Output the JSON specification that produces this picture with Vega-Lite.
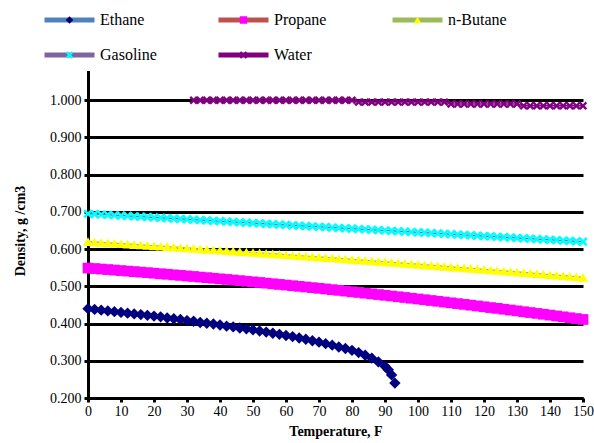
{
"$schema": "https://vega.github.io/schema/vega-lite/v6.json",
"width": 495, "height": 335,
"autosize": {"type": "none"},
"padding": {"left": 88, "top": 63, "right": 11, "bottom": 45},
"config": {"view": {"stroke": null}, "font": "Liberation Serif"},
"data": {"values": [
{"series":"Ethane","temp":0,"density":0.440},{"series":"Ethane","temp":2,"density":0.438},{"series":"Ethane","temp":4,"density":0.436},{"series":"Ethane","temp":6,"density":0.434},{"series":"Ethane","temp":8,"density":0.432},{"series":"Ethane","temp":10,"density":0.430},{"series":"Ethane","temp":12,"density":0.428},{"series":"Ethane","temp":14,"density":0.426},{"series":"Ethane","temp":16,"density":0.424},{"series":"Ethane","temp":18,"density":0.422},{"series":"Ethane","temp":20,"density":0.420},{"series":"Ethane","temp":22,"density":0.418},{"series":"Ethane","temp":24,"density":0.415},{"series":"Ethane","temp":26,"density":0.413},{"series":"Ethane","temp":28,"density":0.411},{"series":"Ethane","temp":30,"density":0.408},{"series":"Ethane","temp":32,"density":0.406},{"series":"Ethane","temp":34,"density":0.403},{"series":"Ethane","temp":36,"density":0.401},{"series":"Ethane","temp":38,"density":0.399},{"series":"Ethane","temp":40,"density":0.396},{"series":"Ethane","temp":42,"density":0.393},{"series":"Ethane","temp":44,"density":0.391},{"series":"Ethane","temp":46,"density":0.388},{"series":"Ethane","temp":48,"density":0.386},{"series":"Ethane","temp":50,"density":0.383},{"series":"Ethane","temp":52,"density":0.380},{"series":"Ethane","temp":54,"density":0.377},{"series":"Ethane","temp":56,"density":0.374},{"series":"Ethane","temp":58,"density":0.371},{"series":"Ethane","temp":60,"density":0.368},{"series":"Ethane","temp":62,"density":0.365},{"series":"Ethane","temp":64,"density":0.361},{"series":"Ethane","temp":66,"density":0.358},{"series":"Ethane","temp":68,"density":0.354},{"series":"Ethane","temp":70,"density":0.350},{"series":"Ethane","temp":72,"density":0.346},{"series":"Ethane","temp":74,"density":0.342},{"series":"Ethane","temp":76,"density":0.337},{"series":"Ethane","temp":78,"density":0.333},{"series":"Ethane","temp":80,"density":0.328},{"series":"Ethane","temp":82,"density":0.322},{"series":"Ethane","temp":84,"density":0.315},{"series":"Ethane","temp":86,"density":0.307},{"series":"Ethane","temp":88,"density":0.297},{"series":"Ethane","temp":90,"density":0.285},{"series":"Ethane","temp":91,"density":0.276},{"series":"Ethane","temp":92,"density":0.262},{"series":"Ethane","temp":93,"density":0.240},
{"series":"Propane","temp":0,"density":0.5490},{"series":"Propane","temp":2,"density":0.5477},{"series":"Propane","temp":4,"density":0.5464},{"series":"Propane","temp":6,"density":0.5450},{"series":"Propane","temp":8,"density":0.5437},{"series":"Propane","temp":10,"density":0.5423},{"series":"Propane","temp":12,"density":0.5409},{"series":"Propane","temp":14,"density":0.5395},{"series":"Propane","temp":16,"density":0.5381},{"series":"Propane","temp":18,"density":0.5367},{"series":"Propane","temp":20,"density":0.5353},{"series":"Propane","temp":22,"density":0.5338},{"series":"Propane","temp":24,"density":0.5324},{"series":"Propane","temp":26,"density":0.5309},{"series":"Propane","temp":28,"density":0.5294},{"series":"Propane","temp":30,"density":0.5279},{"series":"Propane","temp":32,"density":0.5264},{"series":"Propane","temp":34,"density":0.5248},{"series":"Propane","temp":36,"density":0.5233},{"series":"Propane","temp":38,"density":0.5217},{"series":"Propane","temp":40,"density":0.5201},{"series":"Propane","temp":42,"density":0.5185},{"series":"Propane","temp":44,"density":0.5169},{"series":"Propane","temp":46,"density":0.5153},{"series":"Propane","temp":48,"density":0.5136},{"series":"Propane","temp":50,"density":0.5120},{"series":"Propane","temp":52,"density":0.5103},{"series":"Propane","temp":54,"density":0.5086},{"series":"Propane","temp":56,"density":0.5069},{"series":"Propane","temp":58,"density":0.5051},{"series":"Propane","temp":60,"density":0.5035},{"series":"Propane","temp":62,"density":0.5017},{"series":"Propane","temp":64,"density":0.5000},{"series":"Propane","temp":66,"density":0.4983},{"series":"Propane","temp":68,"density":0.4965},{"series":"Propane","temp":70,"density":0.4947},{"series":"Propane","temp":72,"density":0.4929},{"series":"Propane","temp":74,"density":0.4911},{"series":"Propane","temp":76,"density":0.4892},{"series":"Propane","temp":78,"density":0.4873},{"series":"Propane","temp":80,"density":0.4855},{"series":"Propane","temp":82,"density":0.4836},{"series":"Propane","temp":84,"density":0.4817},{"series":"Propane","temp":86,"density":0.4798},{"series":"Propane","temp":88,"density":0.4779},{"series":"Propane","temp":90,"density":0.4759},{"series":"Propane","temp":92,"density":0.4740},{"series":"Propane","temp":94,"density":0.4720},{"series":"Propane","temp":96,"density":0.4700},{"series":"Propane","temp":98,"density":0.4680},{"series":"Propane","temp":100,"density":0.4660},{"series":"Propane","temp":102,"density":0.4640},{"series":"Propane","temp":104,"density":0.4619},{"series":"Propane","temp":106,"density":0.4599},{"series":"Propane","temp":108,"density":0.4578},{"series":"Propane","temp":110,"density":0.4557},{"series":"Propane","temp":112,"density":0.4536},{"series":"Propane","temp":114,"density":0.4515},{"series":"Propane","temp":116,"density":0.4494},{"series":"Propane","temp":118,"density":0.4473},{"series":"Propane","temp":120,"density":0.4451},{"series":"Propane","temp":122,"density":0.4429},{"series":"Propane","temp":124,"density":0.4408},{"series":"Propane","temp":126,"density":0.4385},{"series":"Propane","temp":128,"density":0.4363},{"series":"Propane","temp":130,"density":0.4341},{"series":"Propane","temp":132,"density":0.4318},{"series":"Propane","temp":134,"density":0.4296},{"series":"Propane","temp":136,"density":0.4273},{"series":"Propane","temp":138,"density":0.4250},{"series":"Propane","temp":140,"density":0.4227},{"series":"Propane","temp":142,"density":0.4204},{"series":"Propane","temp":144,"density":0.4181},{"series":"Propane","temp":146,"density":0.4157},{"series":"Propane","temp":148,"density":0.4134},{"series":"Propane","temp":150,"density":0.4110},
{"series":"n-Butane","temp":0,"density":0.6200},{"series":"n-Butane","temp":2,"density":0.6189},{"series":"n-Butane","temp":4,"density":0.6178},{"series":"n-Butane","temp":6,"density":0.6167},{"series":"n-Butane","temp":8,"density":0.6156},{"series":"n-Butane","temp":10,"density":0.6144},{"series":"n-Butane","temp":12,"density":0.6133},{"series":"n-Butane","temp":14,"density":0.6122},{"series":"n-Butane","temp":16,"density":0.6110},{"series":"n-Butane","temp":18,"density":0.6099},{"series":"n-Butane","temp":20,"density":0.6088},{"series":"n-Butane","temp":22,"density":0.6076},{"series":"n-Butane","temp":24,"density":0.6065},{"series":"n-Butane","temp":26,"density":0.6053},{"series":"n-Butane","temp":28,"density":0.6041},{"series":"n-Butane","temp":30,"density":0.6030},{"series":"n-Butane","temp":32,"density":0.6018},{"series":"n-Butane","temp":34,"density":0.6006},{"series":"n-Butane","temp":36,"density":0.5994},{"series":"n-Butane","temp":38,"density":0.5982},{"series":"n-Butane","temp":40,"density":0.5970},{"series":"n-Butane","temp":42,"density":0.5958},{"series":"n-Butane","temp":44,"density":0.5946},{"series":"n-Butane","temp":46,"density":0.5934},{"series":"n-Butane","temp":48,"density":0.5922},{"series":"n-Butane","temp":50,"density":0.5910},{"series":"n-Butane","temp":52,"density":0.5898},{"series":"n-Butane","temp":54,"density":0.5885},{"series":"n-Butane","temp":56,"density":0.5873},{"series":"n-Butane","temp":58,"density":0.5861},{"series":"n-Butane","temp":60,"density":0.5848},{"series":"n-Butane","temp":62,"density":0.5836},{"series":"n-Butane","temp":64,"density":0.5823},{"series":"n-Butane","temp":66,"density":0.5811},{"series":"n-Butane","temp":68,"density":0.5798},{"series":"n-Butane","temp":70,"density":0.5786},{"series":"n-Butane","temp":72,"density":0.5773},{"series":"n-Butane","temp":74,"density":0.5760},{"series":"n-Butane","temp":76,"density":0.5747},{"series":"n-Butane","temp":78,"density":0.5734},{"series":"n-Butane","temp":80,"density":0.5722},{"series":"n-Butane","temp":82,"density":0.5709},{"series":"n-Butane","temp":84,"density":0.5696},{"series":"n-Butane","temp":86,"density":0.5683},{"series":"n-Butane","temp":88,"density":0.5670},{"series":"n-Butane","temp":90,"density":0.5656},{"series":"n-Butane","temp":92,"density":0.5643},{"series":"n-Butane","temp":94,"density":0.5630},{"series":"n-Butane","temp":96,"density":0.5617},{"series":"n-Butane","temp":98,"density":0.5603},{"series":"n-Butane","temp":100,"density":0.5590},{"series":"n-Butane","temp":102,"density":0.5577},{"series":"n-Butane","temp":104,"density":0.5563},{"series":"n-Butane","temp":106,"density":0.5550},{"series":"n-Butane","temp":108,"density":0.5536},{"series":"n-Butane","temp":110,"density":0.5522},{"series":"n-Butane","temp":112,"density":0.5509},{"series":"n-Butane","temp":114,"density":0.5495},{"series":"n-Butane","temp":116,"density":0.5481},{"series":"n-Butane","temp":118,"density":0.5467},{"series":"n-Butane","temp":120,"density":0.5454},{"series":"n-Butane","temp":122,"density":0.5440},{"series":"n-Butane","temp":124,"density":0.5426},{"series":"n-Butane","temp":126,"density":0.5412},{"series":"n-Butane","temp":128,"density":0.5398},{"series":"n-Butane","temp":130,"density":0.5384},{"series":"n-Butane","temp":132,"density":0.5369},{"series":"n-Butane","temp":134,"density":0.5355},{"series":"n-Butane","temp":136,"density":0.5341},{"series":"n-Butane","temp":138,"density":0.5327},{"series":"n-Butane","temp":140,"density":0.5312},{"series":"n-Butane","temp":142,"density":0.5298},{"series":"n-Butane","temp":144,"density":0.5284},{"series":"n-Butane","temp":146,"density":0.5269},{"series":"n-Butane","temp":148,"density":0.5255},{"series":"n-Butane","temp":150,"density":0.5240},
{"series":"Gasoline","temp":0,"density":0.695},{"series":"Gasoline","temp":2,"density":0.694},{"series":"Gasoline","temp":4,"density":0.693},{"series":"Gasoline","temp":6,"density":0.692},{"series":"Gasoline","temp":8,"density":0.691},{"series":"Gasoline","temp":10,"density":0.690},{"series":"Gasoline","temp":12,"density":0.689},{"series":"Gasoline","temp":14,"density":0.688},{"series":"Gasoline","temp":16,"density":0.687},{"series":"Gasoline","temp":18,"density":0.686},{"series":"Gasoline","temp":20,"density":0.685},{"series":"Gasoline","temp":22,"density":0.684},{"series":"Gasoline","temp":24,"density":0.683},{"series":"Gasoline","temp":26,"density":0.682},{"series":"Gasoline","temp":28,"density":0.681},{"series":"Gasoline","temp":30,"density":0.680},{"series":"Gasoline","temp":32,"density":0.679},{"series":"Gasoline","temp":34,"density":0.678},{"series":"Gasoline","temp":36,"density":0.677},{"series":"Gasoline","temp":38,"density":0.676},{"series":"Gasoline","temp":40,"density":0.675},{"series":"Gasoline","temp":42,"density":0.674},{"series":"Gasoline","temp":44,"density":0.673},{"series":"Gasoline","temp":46,"density":0.672},{"series":"Gasoline","temp":48,"density":0.671},{"series":"Gasoline","temp":50,"density":0.670},{"series":"Gasoline","temp":52,"density":0.669},{"series":"Gasoline","temp":54,"density":0.668},{"series":"Gasoline","temp":56,"density":0.667},{"series":"Gasoline","temp":58,"density":0.666},{"series":"Gasoline","temp":60,"density":0.665},{"series":"Gasoline","temp":62,"density":0.664},{"series":"Gasoline","temp":64,"density":0.663},{"series":"Gasoline","temp":66,"density":0.662},{"series":"Gasoline","temp":68,"density":0.661},{"series":"Gasoline","temp":70,"density":0.660},{"series":"Gasoline","temp":72,"density":0.659},{"series":"Gasoline","temp":74,"density":0.658},{"series":"Gasoline","temp":76,"density":0.657},{"series":"Gasoline","temp":78,"density":0.656},{"series":"Gasoline","temp":80,"density":0.655},{"series":"Gasoline","temp":82,"density":0.654},{"series":"Gasoline","temp":84,"density":0.653},{"series":"Gasoline","temp":86,"density":0.652},{"series":"Gasoline","temp":88,"density":0.651},{"series":"Gasoline","temp":90,"density":0.650},{"series":"Gasoline","temp":92,"density":0.649},{"series":"Gasoline","temp":94,"density":0.648},{"series":"Gasoline","temp":96,"density":0.647},{"series":"Gasoline","temp":98,"density":0.646},{"series":"Gasoline","temp":100,"density":0.645},{"series":"Gasoline","temp":102,"density":0.644},{"series":"Gasoline","temp":104,"density":0.643},{"series":"Gasoline","temp":106,"density":0.642},{"series":"Gasoline","temp":108,"density":0.641},{"series":"Gasoline","temp":110,"density":0.640},{"series":"Gasoline","temp":112,"density":0.639},{"series":"Gasoline","temp":114,"density":0.638},{"series":"Gasoline","temp":116,"density":0.637},{"series":"Gasoline","temp":118,"density":0.636},{"series":"Gasoline","temp":120,"density":0.635},{"series":"Gasoline","temp":122,"density":0.634},{"series":"Gasoline","temp":124,"density":0.633},{"series":"Gasoline","temp":126,"density":0.632},{"series":"Gasoline","temp":128,"density":0.631},{"series":"Gasoline","temp":130,"density":0.630},{"series":"Gasoline","temp":132,"density":0.629},{"series":"Gasoline","temp":134,"density":0.628},{"series":"Gasoline","temp":136,"density":0.627},{"series":"Gasoline","temp":138,"density":0.626},{"series":"Gasoline","temp":140,"density":0.625},{"series":"Gasoline","temp":142,"density":0.624},{"series":"Gasoline","temp":144,"density":0.623},{"series":"Gasoline","temp":146,"density":0.622},{"series":"Gasoline","temp":148,"density":0.621},{"series":"Gasoline","temp":150,"density":0.620},
{"series":"Water","temp":32,"density":1.000},{"series":"Water","temp":34,"density":1.000},{"series":"Water","temp":36,"density":1.000},{"series":"Water","temp":38,"density":1.000},{"series":"Water","temp":40,"density":1.000},{"series":"Water","temp":42,"density":1.000},{"series":"Water","temp":44,"density":1.000},{"series":"Water","temp":46,"density":1.000},{"series":"Water","temp":48,"density":1.000},{"series":"Water","temp":50,"density":1.000},{"series":"Water","temp":52,"density":1.000},{"series":"Water","temp":54,"density":1.000},{"series":"Water","temp":56,"density":1.000},{"series":"Water","temp":58,"density":1.000},{"series":"Water","temp":60,"density":1.000},{"series":"Water","temp":62,"density":1.000},{"series":"Water","temp":64,"density":1.000},{"series":"Water","temp":66,"density":1.000},{"series":"Water","temp":68,"density":1.000},{"series":"Water","temp":70,"density":1.000},{"series":"Water","temp":72,"density":1.000},{"series":"Water","temp":74,"density":1.000},{"series":"Water","temp":76,"density":1.000},{"series":"Water","temp":78,"density":1.000},{"series":"Water","temp":80,"density":1.000},{"series":"Water","temp":82,"density":0.995},{"series":"Water","temp":84,"density":0.995},{"series":"Water","temp":86,"density":0.995},{"series":"Water","temp":88,"density":0.995},{"series":"Water","temp":90,"density":0.995},{"series":"Water","temp":92,"density":0.995},{"series":"Water","temp":94,"density":0.995},{"series":"Water","temp":96,"density":0.995},{"series":"Water","temp":98,"density":0.995},{"series":"Water","temp":100,"density":0.995},{"series":"Water","temp":102,"density":0.995},{"series":"Water","temp":104,"density":0.995},{"series":"Water","temp":106,"density":0.995},{"series":"Water","temp":108,"density":0.995},{"series":"Water","temp":110,"density":0.990},{"series":"Water","temp":112,"density":0.990},{"series":"Water","temp":114,"density":0.990},{"series":"Water","temp":116,"density":0.990},{"series":"Water","temp":118,"density":0.990},{"series":"Water","temp":120,"density":0.990},{"series":"Water","temp":122,"density":0.990},{"series":"Water","temp":124,"density":0.990},{"series":"Water","temp":126,"density":0.990},{"series":"Water","temp":128,"density":0.990},{"series":"Water","temp":130,"density":0.990},{"series":"Water","temp":132,"density":0.985},{"series":"Water","temp":134,"density":0.985},{"series":"Water","temp":136,"density":0.985},{"series":"Water","temp":138,"density":0.985},{"series":"Water","temp":140,"density":0.985},{"series":"Water","temp":142,"density":0.985},{"series":"Water","temp":144,"density":0.985},{"series":"Water","temp":146,"density":0.985},{"series":"Water","temp":148,"density":0.985},{"series":"Water","temp":150,"density":0.985}
]},
"encoding": {
  "x": {"field": "temp", "type": "quantitative", "scale": {"domain": [0, 150], "nice": false},
    "axis": {"values": [0,10,20,30,40,50,60,70,80,90,100,110,120,130,140,150], "title": "Temperature, F", "grid": false,
      "domainColor": "black", "domainWidth": 3, "tickColor": "black", "tickWidth": 3, "tickSize": 4,
      "labelFont": "Liberation Serif", "labelFontSize": 14, "labelColor": "black", "labelPadding": 2, "labelFlush": false,
      "titleFont": "Liberation Serif", "titleFontSize": 14, "titleFontWeight": "bold", "titleColor": "black", "titlePadding": 6}},
  "y": {"field": "density", "type": "quantitative", "scale": {"domain": [0.2, 1.1], "nice": false, "zero": false},
    "axis": {"values": [0.2,0.3,0.4,0.5,0.6,0.7,0.8,0.9,1.0], "format": ".3f", "title": "Density, g /cm3", "grid": true,
      "gridColor": "black", "gridWidth": 3, "gridOpacity": 1,
      "domainColor": "black", "domainWidth": 3, "tickColor": "black", "tickWidth": 3, "tickSize": 4,
      "labelFont": "Liberation Serif", "labelFontSize": 14, "labelColor": "black", "labelPadding": 3,
      "titleFont": "Liberation Serif", "titleFontSize": 14, "titleFontWeight": "bold", "titleColor": "black", "titlePadding": 22}}
},
"layer": [
  {"mark": {"type": "line", "strokeWidth": 1.5},
   "encoding": {"stroke": {"field": "series", "type": "nominal", "sort": ["Ethane","Propane","n-Butane","Gasoline","Water"],
     "scale": {"range": ["#4F81BD","#C0504D","#9BBB59","#8064A2","#800080"]},
     "legend": {"title": null, "orient": "none", "direction": "horizontal", "gridAlign": "all", "legendX": -52, "legendY": -59, "columns": 3, "columnPadding": 57, "rowPadding": 15,
       "clipHeight": 20, "symbolType": "stroke", "symbolSize": 2500, "symbolStrokeWidth": 5, "labelOffset": 3,
       "labelFont": "Liberation Serif", "labelFontSize": 16, "labelColor": "black", "fillColor": "white", "padding": 6, "zindex": 1}}}},
  {"mark": {"type": "point", "filled": true, "opacity": 1},
   "encoding": {
     "size": {"field": "series", "type": "nominal", "legend": null,
       "scale": {"domain": ["Water","Gasoline","n-Butane","Propane","Ethane"], "range": [70, 130, 170, 75, 110]}},
     "fill": {"field": "series", "type": "nominal",
       "scale": {"domain": ["Ethane","Propane","n-Butane","Gasoline","Water"], "range": ["#000080","#FF00FF","#FFFF00","#00FFFF","#800080"]},
       "legend": {"title": null, "orient": "none", "direction": "horizontal", "gridAlign": "all", "legendX": -28.5, "legendY": -59, "columns": 3, "columnPadding": 166, "rowPadding": 15,
         "clipHeight": 20, "symbolSize": 60, "symbolStrokeWidth": 0, "symbolOffset": 0, "labelOffset": 0, "labelOpacity": 0, "labelFontSize": 1, "labelExpr": "''",
         "padding": 6, "zindex": 2,
         "encode": {"symbols": {"update": {"shape": {"signal": "datum.label === 'Water' ? 'circle' : datum.label === 'Ethane' ? 'diamond' : datum.label === 'Propane' ? 'square' : datum.label === 'n-Butane' ? 'triangle-up' : 'M-1,-0.6L-0.6,-1L0,-0.4L0.6,-1L1,-0.6L0.4,0L1,0.6L0.6,1L0,0.4L-0.6,1L-1,0.6L-0.4,0Z'"}}}}}},
     "shape": {"field": "series", "type": "nominal",
       "scale": {"domain": ["Ethane","Propane","n-Butane","Gasoline","Water"], "range": ["diamond","square","triangle-up","M-1,-0.6L-0.6,-1L0,-0.4L0.6,-1L1,-0.6L0.4,0L1,0.6L0.6,1L0,0.4L-0.6,1L-1,0.6L-0.4,0Z","M-1,-0.6L-0.6,-1L0,-0.4L0.6,-1L1,-0.6L0.4,0L1,0.6L0.6,1L0,0.4L-0.6,1L-1,0.6L-0.4,0Z"]},
       "legend": {"title": null, "orient": "none", "direction": "horizontal", "gridAlign": "all", "legendX": -28.5, "legendY": -59, "columns": 3, "columnPadding": 166, "rowPadding": 15,
         "clipHeight": 20, "symbolSize": 60, "symbolStrokeWidth": 0, "symbolOffset": 0, "labelOffset": 0, "labelOpacity": 0, "labelFontSize": 1, "labelExpr": "''",
         "padding": 6, "zindex": 2}}
   }}
]
}
